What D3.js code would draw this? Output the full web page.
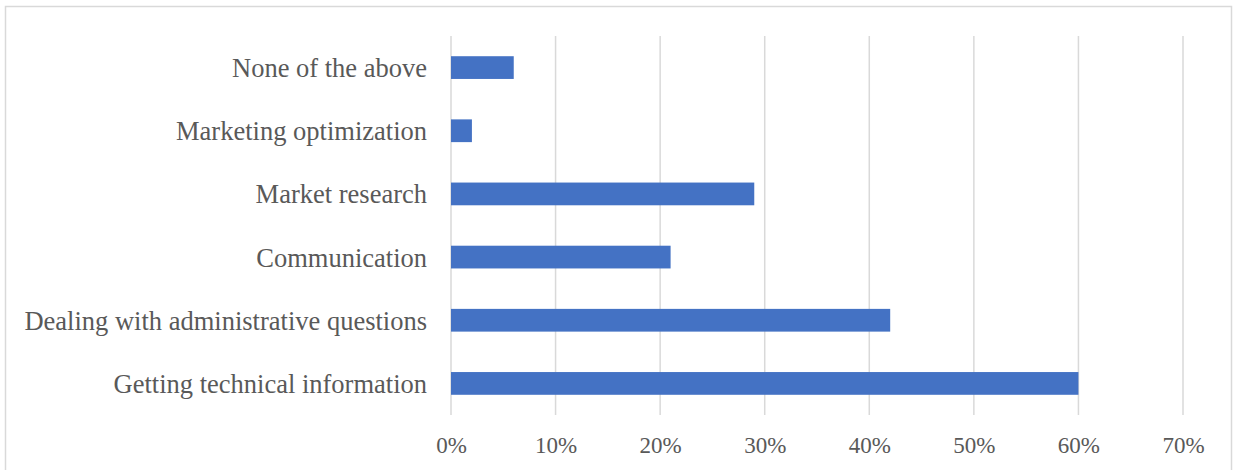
<!DOCTYPE html>
<html>
<head>
<meta charset="utf-8">
<script src="https://cdn.jsdelivr.net/npm/d3@7"></script>
<style>
  html, body { margin: 0; padding: 0; background: #fff; }
  svg { display: block; }
</style>
</head>
<body>
<svg id="chart" width="1235" height="470"></svg>
<script>
// Survey responses: share of respondents per use case
const categories = [
  "None of the above",
  "Marketing optimization",
  "Market research",
  "Communication",
  "Dealing with administrative questions",
  "Getting technical information"
];
const values = [0.06, 0.02, 0.29, 0.21, 0.42, 0.60];
const tickValues = [0, 0.1, 0.2, 0.3, 0.4, 0.5, 0.6, 0.7];

const svg = d3.select("#chart");
const W = 1235, H = 470;
const margin = { left: 451, right: 52, top: 36, bottom: 55 };

// Outer chart frame
svg.append("rect")
  .attr("x", 5.5).attr("y", 6.5)
  .attr("width", W - 9).attr("height", H + 10)
  .attr("fill", "#fff")
  .attr("stroke", "#d9d9d9").attr("stroke-width", 1.5);

const x = d3.scaleLinear().domain([0, 0.7]).range([margin.left, W - margin.right]);
const y = d3.scaleBand().domain(categories)
  .range([margin.top, H - margin.bottom])
  .paddingInner(0.64).paddingOuter(0.32);

// Vertical gridlines
svg.append("g").selectAll("line")
  .data(tickValues).join("line")
  .attr("x1", d => x(d)).attr("x2", d => x(d))
  .attr("y1", margin.top).attr("y2", H - margin.bottom)
  .attr("stroke", "#d9d9d9").attr("stroke-width", 1.5);

// Bars
svg.append("g").selectAll("rect")
  .data(categories).join("rect")
  .attr("x", x(0))
  .attr("y", d => y(d))
  .attr("width", (d, i) => x(values[i]) - x(0))
  .attr("height", y.bandwidth())
  .attr("fill", "#4472c4");

// X axis tick labels
const xAxis = d3.axisBottom(x).tickValues(tickValues)
  .tickFormat(d3.format(".0%")).tickSize(0).tickPadding(0);
const gx = svg.append("g")
  .attr("transform", `translate(0,${H - margin.bottom})`)
  .call(xAxis);
gx.select(".domain").remove();
gx.selectAll("text")
  .attr("y", 22).attr("dy", "0.71em")
  .attr("font-family", "'Liberation Serif', 'Times New Roman', serif")
  .attr("font-size", 23).attr("fill", "#595959");

// Category labels
const yAxis = d3.axisLeft(y).tickSize(0).tickPadding(24);
const gy = svg.append("g")
  .attr("transform", `translate(${margin.left},0)`)
  .call(yAxis);
gy.select(".domain").remove();
gy.selectAll("text")
  .attr("dy", "0.36em")
  .attr("font-family", "'Liberation Serif', 'Times New Roman', serif")
  .attr("font-size", 26.5).attr("fill", "#595959");
</script>
</body>
</html>
